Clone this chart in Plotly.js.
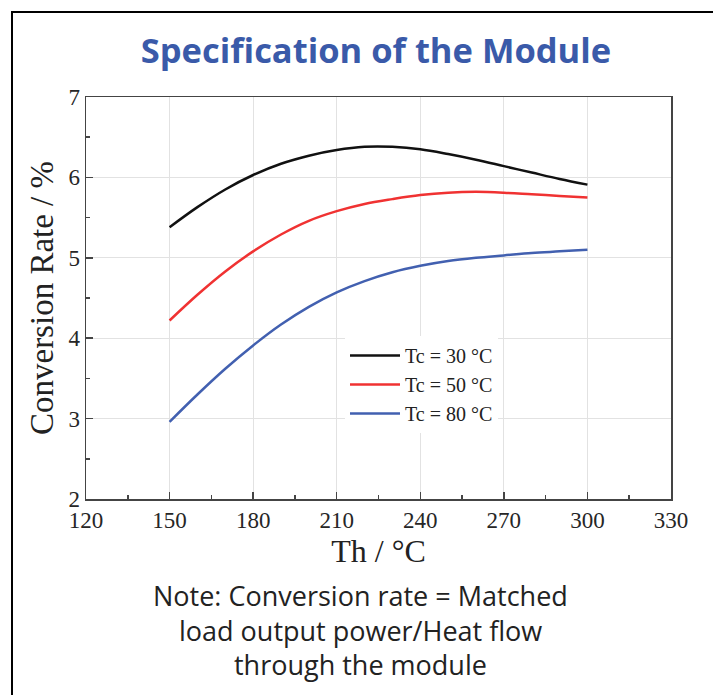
<!DOCTYPE html>
<html>
<head>
<meta charset="utf-8">
<script src="https://cdn.plot.ly/plotly-3.0.1.min.js"></script>
<style>
  html, body { margin: 0; padding: 0; background: #fff; }
  #wrap { position: relative; width: 713px; height: 695px; }
  #chart { width: 713px; height: 695px; }
  #frame { position: absolute; left: 11px; top: 11px; right: 0; bottom: 0;
           border-top: 2px solid #000; border-left: 2px solid #000; pointer-events: none; }
</style>
</head>
<body>
<div id="wrap">
  <div id="chart"></div>
  <div id="frame"></div>
</div>
<script>
const th = [150, 160, 170, 180, 190, 200, 210, 220, 230, 240, 250, 260, 270, 280, 290, 300];
const tc30 = [5.38, 5.63, 5.85, 6.03, 6.17, 6.27, 6.34, 6.38, 6.38, 6.35, 6.29, 6.22, 6.14, 6.06, 5.98, 5.91];
const tc50 = [4.22, 4.54, 4.83, 5.08, 5.29, 5.46, 5.58, 5.67, 5.73, 5.78, 5.81, 5.82, 5.81, 5.79, 5.77, 5.75];
const tc80 = [2.96, 3.30, 3.62, 3.91, 4.17, 4.39, 4.57, 4.71, 4.82, 4.90, 4.96, 5.00, 5.03, 5.06, 5.08, 5.10];
const seriesNames = ["Tc = 30 °C", "Tc = 50 °C", "Tc = 80 °C"];
const titleText = "Specification of the Module";
const xTitle = "Th / °C";
const yTitle = "Conversion Rate / %";
const noteLines = ["Note: Conversion rate = Matched", "load output power/Heat flow", "through the module"];

const colors = ["#111111", "#f03232", "#4260b0"];
const ys = [tc30, tc50, tc80];
const traces = ys.map((y, i) => ({
  x: th, y: y, type: "scatter", mode: "lines", name: seriesNames[i],
  line: { color: colors[i], width: 2.5, shape: "spline", smoothing: 1 }
}));

const serif = "Liberation Serif, Times New Roman, serif";
const axisCommon = {
  showline: true, linecolor: "#444", linewidth: 1.5, mirror: true,
  ticks: "inside", ticklen: 7, tickwidth: 1.5, tickcolor: "#444",
  showgrid: true, gridcolor: "#e2e2e2", gridwidth: 1,
  zeroline: false,
  tickfont: { family: serif, size: 23, color: "#262626" }
};

const layout = {
  width: 713, height: 695,
  margin: { l: 86, r: 42, t: 97, b: 196 },
  paper_bgcolor: "#fff", plot_bgcolor: "#fff",
  title: {
    text: "<b>" + titleText + "</b>",
    font: { family: "Open Sans, sans-serif", size: 34.5, color: "#3a5aa9" },
    x: 376 / 713, xref: "container", xanchor: "center",
    y: 1 - 51 / 695, yref: "container", yanchor: "middle"
  },
  xaxis: Object.assign({}, axisCommon, {
    range: [120, 330], tickvals: [120, 150, 180, 210, 240, 270, 300, 330],
    minor: { ticks: "inside", ticklen: 4, tickwidth: 1.5, tickcolor: "#444", dtick: 15, tick0: 120, showgrid: false },
    title: { text: xTitle, font: { family: serif, size: 32, color: "#222" }, standoff: 4 }
  }),
  yaxis: Object.assign({}, axisCommon, {
    range: [2, 7], dtick: 1,
    minor: { ticks: "inside", ticklen: 4, tickwidth: 1.5, tickcolor: "#444", dtick: 0.5, showgrid: false },
    title: { text: yTitle, font: { family: serif, size: 33, color: "#222" }, standoff: 5 }
  }),
  showlegend: true,
  legend: {
    x: (345 - 86) / 585, y: (499 - 336) / 402, xanchor: "left", yanchor: "top",
    bgcolor: "#fff", borderwidth: 0,
    font: { family: serif, size: 20, color: "#222" },
    itemwidth: 50, tracegroupgap: 0
  },
  annotations: noteLines.map((t, i) => ({
    text: t, showarrow: false, xref: "paper", yref: "paper",
    x: (360 - 86) / 585, y: (499 - [595, 630, 664][i]) / 402,
    xanchor: "center", yanchor: "middle",
    font: { family: "Open Sans, sans-serif", size: 27, color: "#222" }
  }))
};

Plotly.newPlot("chart", traces, layout, { displayModeBar: false, staticPlot: true });
</script>
</body>
</html>
